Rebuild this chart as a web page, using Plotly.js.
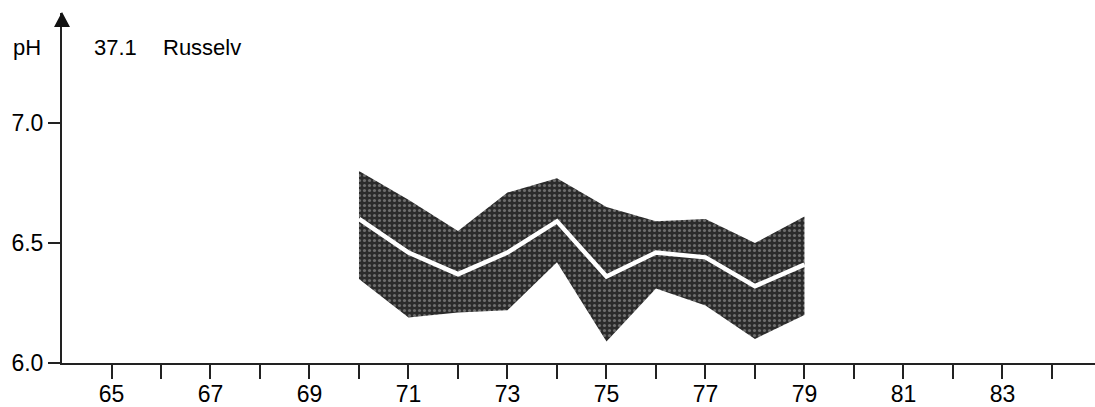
<!DOCTYPE html>
<html>
<head>
<meta charset="utf-8">
<script src="https://cdn.plot.ly/plotly-3.0.1.min.js"></script>
<style>html,body{margin:0;padding:0;background:#fff;}#chart{width:1095px;height:407px;}</style>
</head>
<body>
<div id="chart"></div>
<script>
// Years with measurements
const years = [70, 71, 72, 73, 74, 75, 76, 77, 78, 79];
// Upper envelope of pH band
const phUpper = [6.80, 6.68, 6.55, 6.71, 6.77, 6.65, 6.59, 6.60, 6.50, 6.61];
// Lower envelope of pH band
const phLower = [6.35, 6.19, 6.21, 6.22, 6.42, 6.09, 6.31, 6.24, 6.10, 6.20];
// Mean pH (white line)
const phMean = [6.60, 6.46, 6.37, 6.46, 6.59, 6.36, 6.46, 6.44, 6.32, 6.41];
// X axis ticks and labels
const xTickVals = [65, 66, 67, 68, 69, 70, 71, 72, 73, 74, 75, 76, 77, 78, 79, 80, 81, 82, 83, 84];
const xTickText = ['65', '', '67', '', '69', '', '71', '', '73', '', '75', '', '77', '', '79', '', '81', '', '83', ''];
// Y axis ticks
const yTickVals = [6.0, 6.5, 7.0];
const yTickText = ['6.0', '6.5', '7.0'];

const font = {family: 'Liberation Sans, Arial, sans-serif', size: 23, color: '#000'};
const titleFont = {family: 'Liberation Sans, Arial, sans-serif', size: 22, color: '#000'};
const xRange = [64, 84.87];

const traces = [
  {x: years, y: phLower, type: 'scatter', mode: 'lines', line: {width: 0, color: '#2b2b2b'}, hoverinfo: 'skip', showlegend: false},
  {x: years, y: phUpper, type: 'scatter', mode: 'lines', fill: 'tonexty',
   fillcolor: '#2b2b2b',
   fillpattern: {shape: '.', bgcolor: '#2b2b2b', fgcolor: '#6e6e6e', size: 5, solidity: 0.3},
   line: {width: 0, color: '#2b2b2b'}, hoverinfo: 'skip', showlegend: false},
  {x: years, y: phMean, type: 'scatter', mode: 'lines', line: {width: 4.5, color: '#ffffff'}, showlegend: false},
  // invisible trace to activate the tick-only axis
  {x: [xRange[0]], y: [6.0], xaxis: 'x2', type: 'scatter', mode: 'markers', marker: {opacity: 0}, hoverinfo: 'skip', showlegend: false}
];

const layout = {
  width: 1095, height: 407,
  margin: {l: 62, r: 0, t: 13, b: 44},
  paper_bgcolor: '#fff', plot_bgcolor: '#fff',
  font: font,
  showlegend: false,
  xaxis: {
    range: xRange, tickvals: xTickVals, ticktext: xTickText,
    ticks: 'outside', ticklen: 9, tickwidth: 2, tickcolor: 'rgba(0,0,0,0)',
    showline: true, linecolor: '#222', linewidth: 2,
    showgrid: false, zeroline: false, tickfont: font
  },
  xaxis2: {
    range: xRange, overlaying: 'x', side: 'bottom', anchor: 'y',
    tickvals: xTickVals, showticklabels: false,
    ticks: 'outside', ticklen: 15, tickwidth: 2, tickcolor: '#222',
    showline: false, showgrid: false, zeroline: false
  },
  yaxis: {
    range: [6.0, 7.458], tickvals: yTickVals, ticktext: yTickText,
    ticks: 'outside', ticklen: 12, tickwidth: 2, tickcolor: '#222',
    showline: true, linecolor: '#222', linewidth: 2,
    showgrid: false, zeroline: false, tickfont: font
  },
  shapes: [
    {type: 'path', xref: 'paper', yref: 'paper', xsizemode: 'pixel', ysizemode: 'pixel',
     xanchor: 0, yanchor: 1, path: 'M0,1 L-8,-14 L8,-14 Z', fillcolor: '#111', line: {width: 0}}
  ],
  annotations: [
    {xref: 'paper', yref: 'paper', x: 0, y: 1, xanchor: 'right', yanchor: 'middle', xshift: -19, yshift: -34,
     text: 'pH', showarrow: false, font: titleFont},
    {xref: 'paper', yref: 'paper', x: 0, y: 1, xanchor: 'left', yanchor: 'middle', xshift: 30, yshift: -34,
     text: '37.1', showarrow: false, font: titleFont},
    {xref: 'paper', yref: 'paper', x: 0, y: 1, xanchor: 'left', yanchor: 'middle', xshift: 99, yshift: -34,
     text: 'Russelv', showarrow: false, font: titleFont}
  ]
};

Plotly.newPlot('chart', traces, layout, {displayModeBar: false, staticPlot: true});
</script>
</body>
</html>
